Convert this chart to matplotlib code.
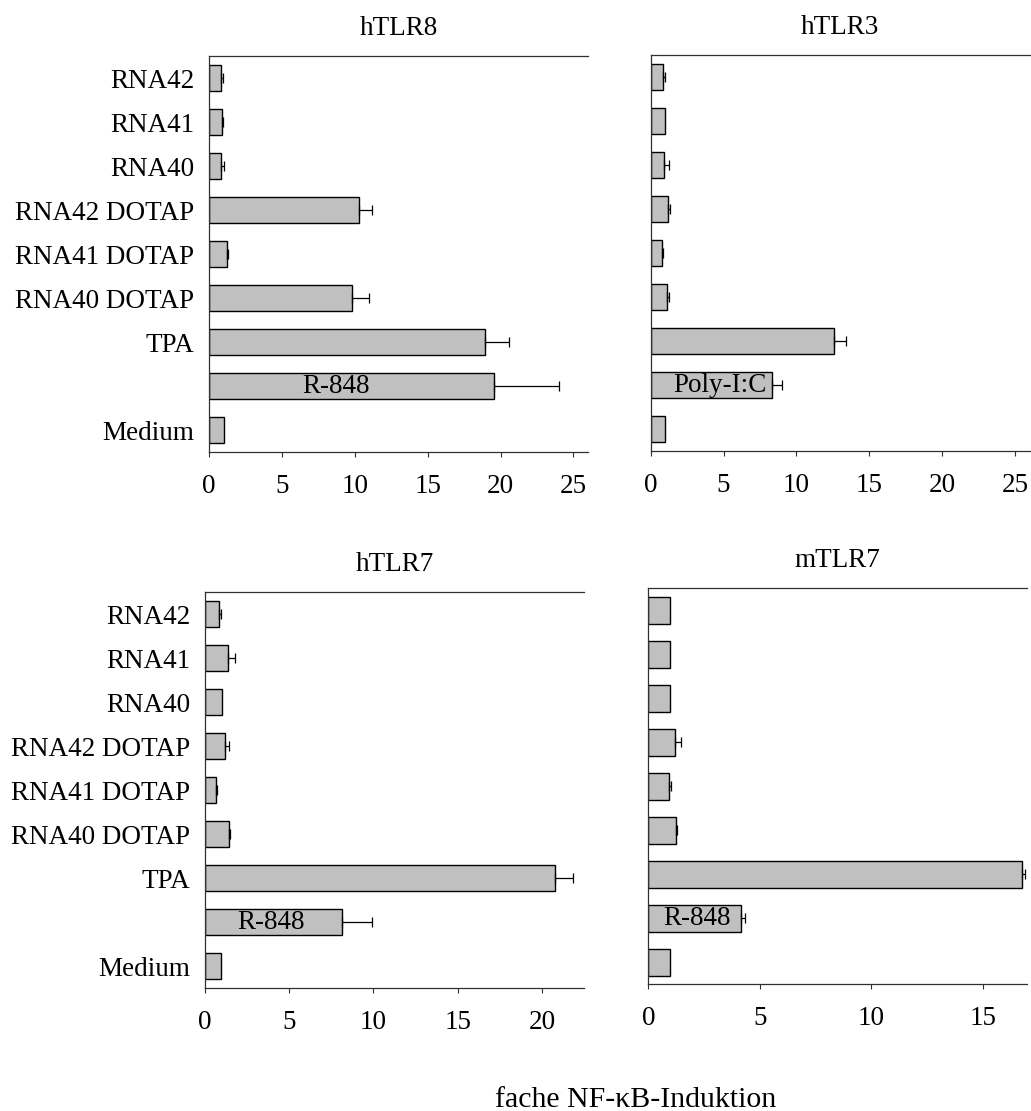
import matplotlib
matplotlib.use("Agg")
import matplotlib.pyplot as plt
import numpy as np

plt.rcParams["font.family"] = ["Liberation Serif", "DejaVu Serif"]

# Categories, bottom to top
categories = ["Medium", "Stimulus", "TPA", "RNA40 DOTAP", "RNA41 DOTAP",
              "RNA42 DOTAP", "RNA40", "RNA41", "RNA42"]
tick_labels = ["Medium", "", "TPA", "RNA40 DOTAP", "RNA41 DOTAP",
               "RNA42 DOTAP", "RNA40", "RNA41", "RNA42"]

# Fold NF-kB induction (mean) and upper error per receptor
htlr8_vals = [1.00, 19.57, 18.93, 9.83, 1.21, 10.29, 0.85, 0.87, 0.82]
htlr8_err = [0.00, 4.43, 1.62, 1.17, 0.06, 0.91, 0.18, 0.11, 0.16]

htlr3_vals = [0.98, 8.31, 12.60, 1.14, 0.75, 1.21, 0.94, 0.96, 0.87]
htlr3_err = [0.00, 0.73, 0.79, 0.14, 0.07, 0.12, 0.30, 0.00, 0.09]

htlr7_vals = [0.99, 8.12, 20.77, 1.46, 0.69, 1.20, 1.04, 1.40, 0.83]
htlr7_err = [0.00, 1.78, 1.04, 0.04, 0.02, 0.26, 0.00, 0.41, 0.16]

mtlr7_vals = [0.99, 4.17, 16.76, 1.24, 0.91, 1.21, 0.99, 0.99, 0.99]
mtlr7_err = [0.00, 0.18, 0.13, 0.05, 0.09, 0.24, 0.00, 0.00, 0.00]

panel_titles = ["hTLR8", "hTLR3", "hTLR7", "mTLR7"]
stimulus_names = ["R-848", "Poly-I:C", "R-848", "R-848"]
x_label = "fache NF-\u03baB-Induktion"

FS = 19.5
W, H = 1031, 1111
fig = plt.figure(figsize=(W / 100, H / 100), dpi=100)

# (left, top, width, height) in pixels, x limit, stimulus label x, show y labels
panels = [
    (209.0, 56.0, 379.0, 396.0, 26.0, 8.7, True),
    (650.7, 55.0, 379.0, 396.0, 26.0, 4.76, False),
    (204.7, 592.0, 379.6, 396.3, 22.5, 3.94, True),
    (648.3, 588.3, 379.0, 396.0, 17.0, 2.19, False),
]
values = [htlr8_vals, htlr3_vals, htlr7_vals, mtlr7_vals]
errors = [htlr8_err, htlr3_err, htlr7_err, mtlr7_err]

y = np.arange(len(categories))
spine_col = "#303030"

for (lp, tp, wp, hp, xmax, lab_x, show_y), vals, errs, title, stim in zip(
        panels, values, errors, panel_titles, stimulus_names):
    ax = fig.add_axes([lp / W, 1 - (tp + hp) / H, wp / W, hp / H])
    vals = np.asarray(vals)
    errs = np.asarray(errs)
    ax.barh(y, vals, height=0.6, color="#c0c0c0", edgecolor="black",
            linewidth=1.0, zorder=2)
    m = errs > 0
    ax.errorbar(vals[m], y[m], xerr=[np.zeros(m.sum()), errs[m]], fmt="none",
                ecolor="black", elinewidth=0.9, capsize=3.3, capthick=0.9,
                zorder=3)
    ax.text(lab_x, y[1], stim, ha="center", va="center", fontsize=FS, zorder=4)

    ax.set_xlim(0, xmax)
    ax.set_ylim(-0.5, len(categories) - 0.5)
    ticks = np.arange(0, xmax + 0.01, 5)
    ax.set_xticks(ticks)
    ax.set_xticklabels([f"{int(t)}" for t in ticks])
    ax.set_yticks(y)
    ax.set_yticklabels(tick_labels if show_y else [""] * len(y))
    ax.tick_params(axis="x", direction="out", length=3.6, width=0.8,
                   color=spine_col, labelsize=FS, pad=12)
    ax.tick_params(axis="y", length=0, labelsize=FS, pad=10.5)
    ax.spines["right"].set_visible(False)
    for s in ("left", "bottom", "top"):
        ax.spines[s].set_color(spine_col)
        ax.spines[s].set_linewidth(0.9)
    ax.set_title(title, fontsize=FS, pad=15)

fig.text(636 / W, 1 - 1107 / H, x_label, ha="center", va="baseline",
         fontsize=21.5)

fig.savefig("out.png", dpi=100)
